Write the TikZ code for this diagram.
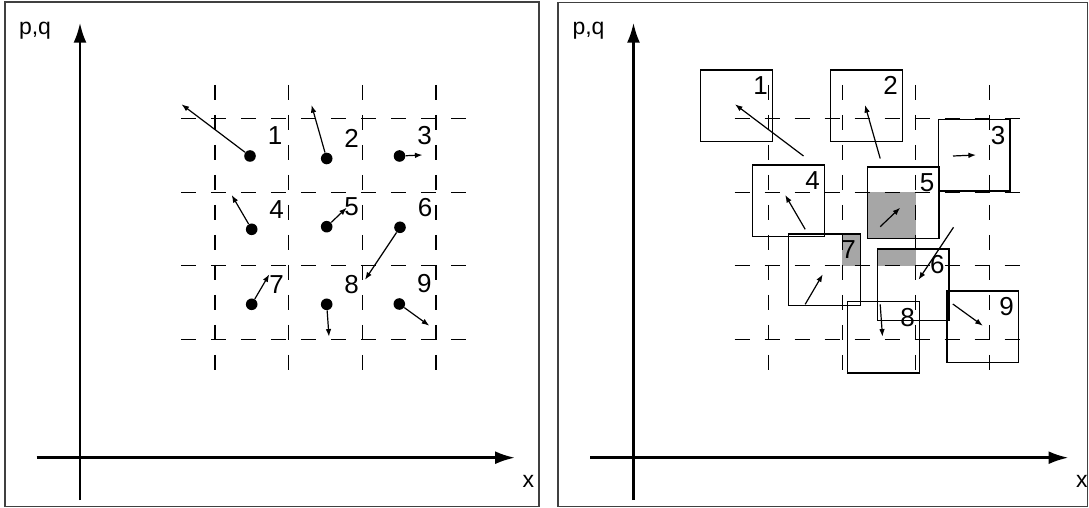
\documentclass[tikz,border=0pt]{standalone}
\usepackage{fontspec}
\setmainfont{Liberation Sans}
\usetikzlibrary{arrows.meta}
\pgfdeclarelayer{background}
\pgfsetlayers{background,main}

\tikzset{
	axisline/.style={line width=1.3pt, -{Latex[length=10pt,width=6.5pt]}},
	flow/.style={line width=0.6pt, -{Latex[length=3.8pt,width=2.8pt]}},
	gridline/.style={line width=0.6pt, dash pattern=on 7.5pt off 7.5pt},
	pdot/.style={circle, fill, inner sep=0pt, minimum size=5.8pt},
	movedsq/.style={draw, line width=0.7pt, inner sep=0pt, minimum size=35.8pt},
	numlabel/.style={inner sep=0pt, font=\fontsize{13}{15}\selectfont},
	axislabel/.style={inner sep=0pt, anchor=base, font=\fontsize{11.5}{14}\selectfont},
}

\begin{document}
\begin{tikzpicture}[x=0.5pt, y=-0.5pt]
	\useasboundingbox (0,0) rectangle (1089,508);

	\draw[line width=0.8pt, black!75] (5,2) rectangle (539,506.5);
	\draw[line width=0.8pt, black!75] (557.7,2.5) rectangle (1087.5,506.5);

	\foreach \s/\p in {0/a,553.5/b} {
			\begin{scope}[shift={(\s,0)}]
				\foreach \x in {215,288.7,362.3,436}
				\draw[gridline] (\x,85) -- (\x,375);
				\foreach \y in {118.5,192.3,265.5,339.7}
				\draw[gridline] (181,\y) -- (469,\y);

				\draw[axisline] (80,500) -- (80,22.7);
				\draw[axisline] (36.5,457.7) -- (515,457.7);
				\node[axislabel] (pq\p) at (35,35) {p,q};
				\node[axislabel] (x\p) at (528.3,487.3) {x};
			\end{scope}
		}

	\foreach \n/\px/\py/\tx/\ty/\sx/\sy in {
			1/250/156/181.5/104.3/736.5/105.8,
			2/326.7/158.5/311.5/105/866.5/105.8,
			3/399.5/156/422.5/155/974.2/155.2,
			4/251.7/229.3/231.7/195/788.5/200.8,
			5/326.7/226.7/346.7/207.7/903.2/202.9,
			6/400/227.3/365/279.8/913.3/285,
			7/251.7/304.3/269.3/274.3/824.5/269.9,
			8/326.7/304.3/329/336.7/883.5/337.2,
			9/399.3/304/429.3/325.7/982.7/326.7} {
			\node[pdot] (a\n) at (\px,\py) {};
			\coordinate (ta\n) at (\tx,\ty);
			\draw[flow] (a\n) -- (ta\n);
			\node[numlabel] (la\n) at (\px+25,\py-20) {\n};

			\coordinate (b\n) at (\px+553.5,\py);
			\coordinate (tb\n) at (\tx+553.5,\ty);
			\node[movedsq] (sq\n) at (\sx,\sy) {};
			\draw[flow] (b\n) -- (tb\n);
			\node[numlabel] (lb\n) at (\sx+24,\sy-20) {\n};
		}

	\begin{pgfonlayer}{background}
		\begin{scope}
			\clip (842.2,192.3) rectangle (915.8,265.5);
			\foreach \n in {5,6,7}
			\fill[black!35] (sq\n.south west) rectangle (sq\n.north east);
		\end{scope}
	\end{pgfonlayer}
\end{tikzpicture}
\end{document}
